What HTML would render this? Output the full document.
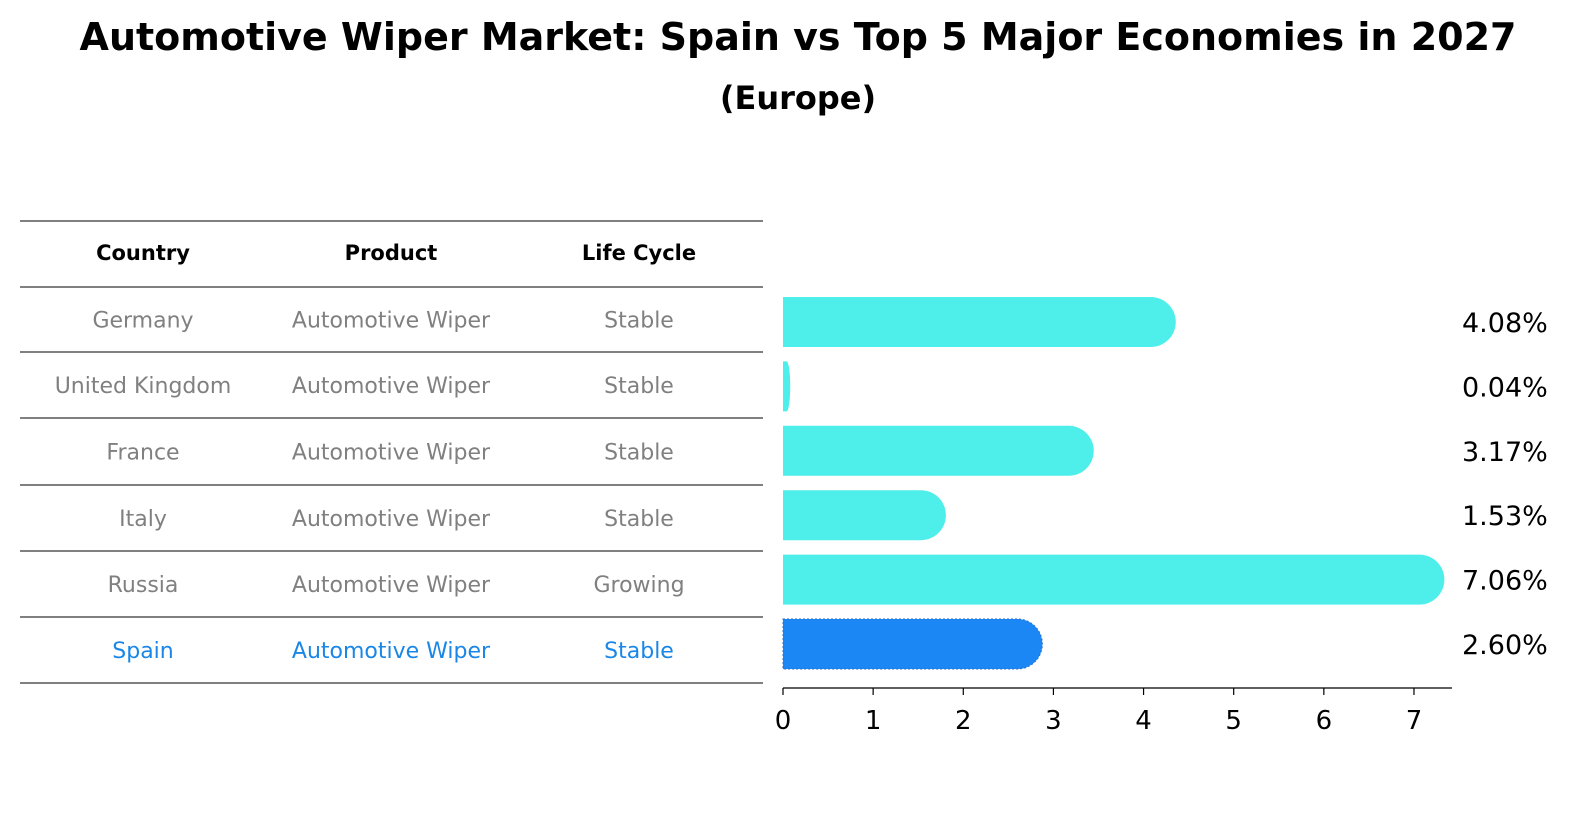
<!DOCTYPE html>
<html><head><meta charset="utf-8"><style>
html,body{margin:0;padding:0;background:#fff;overflow:hidden;width:1586px;height:823px;font-family:"Liberation Sans","DejaVu Sans",sans-serif;}
svg{display:block;}
svg text{font-family:"DejaVu Sans","Liberation Sans",sans-serif;}
</style></head><body>
<svg width="1586" height="823" xmlns="http://www.w3.org/2000/svg" id="chart">
<text x="798" y="50" text-anchor="middle" font-size="38" font-weight="bold">Automotive Wiper Market: Spain vs Top 5 Major Economies in 2027</text>
<text x="798" y="109" text-anchor="middle" font-size="32" font-weight="bold">(Europe)</text>
<g id="table"></g>
<g id="bars"></g>
</svg>
<script>
const countries=["Germany","United Kingdom","France","Italy","Russia","Spain"];
const products=["Automotive Wiper","Automotive Wiper","Automotive Wiper","Automotive Wiper","Automotive Wiper","Automotive Wiper"];
const lifecycles=["Stable","Stable","Stable","Stable","Growing","Stable"];
const values=[4.08,0.04,3.17,1.53,7.06,2.60];
const ticks=[0,1,2,3,4,5,6,7];
const NS="http://www.w3.org/2000/svg";
function mk(t,a,p){const e=document.createElementNS(NS,t);for(const k in a)e.setAttribute(k,a[k]);p.appendChild(e);return e;}
const x=v=>783+v*90.14;
const rowY=i=>322+i*64.4;
const tbl=document.getElementById('table');
const lines=[221,287,352,418,485,551,617,683];
lines.forEach(y=>{const l=mk('line',{x1:20,x2:763,y1:y,y2:y,stroke:'#000','stroke-width':1},tbl);

});
const cols=[143,391,639];
["Country","Product","Life Cycle"].forEach((h,j)=>{const t=mk('text',{x:cols[j],y:260,'text-anchor':'middle','font-size':21,'font-weight':'bold'},tbl);t.textContent=h;

});
countries.forEach((c,i)=>{const y=(lines[i+1]+lines[i+2])/2+8;const col=c==="Spain"?"#1a87e6":"#808080";
[c,products[i],lifecycles[i]].forEach((s,j)=>{const t=mk('text',{x:cols[j],y:y,'text-anchor':'middle','font-size':22,fill:col},tbl);t.textContent=s;

});});
const g=document.getElementById('bars');
values.forEach((v,i)=>{const spain=countries[i]==="Spain";const fill=spain?"#1a87f5":"#4eeeea";const cy=rowY(i);const w=x(v)-x(0);const r=Math.min(25,w);
const b=mk('path',{d:`M${x(0)},${cy-25} H${x(v)} A${r},25 0 0 1 ${x(v)},${cy+25} H${x(0)} Z`,fill:fill,stroke:spain?"#2a6fd0":"none",'stroke-dasharray':spain?"2,2":"none"},g);


const t=mk('text',{x:1462,y:cy+10,'font-size':27},g);t.textContent=v.toFixed(2)+"%";

});
const ax=mk('line',{x1:783,x2:1452,y1:688,y2:688,stroke:'#000','stroke-width':1.3},g);


ticks.forEach(t=>{const l=mk('line',{x1:x(t),x2:x(t),y1:688,y2:695,stroke:'#000','stroke-width':1.2},g);


const tx=mk('text',{x:x(t),y:729,'text-anchor':'middle','font-size':26},g);tx.textContent=t;

});
</script>
</body></html>
